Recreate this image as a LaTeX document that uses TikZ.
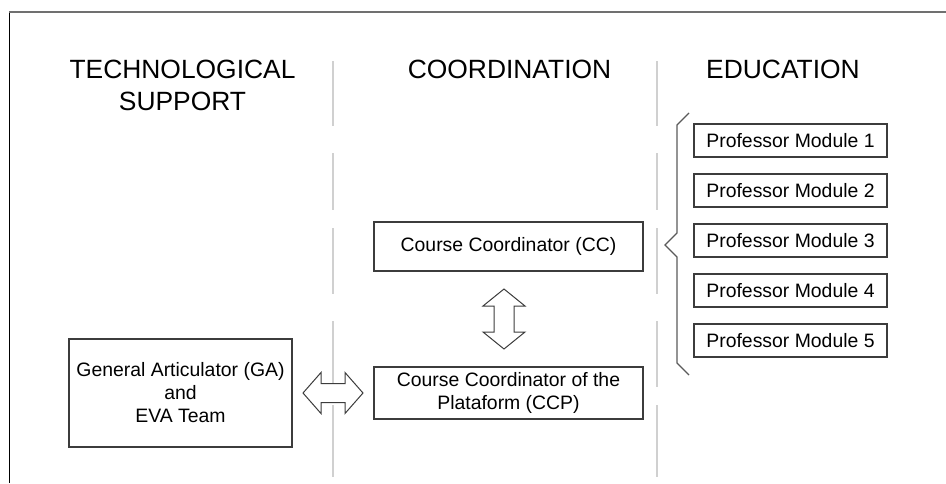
\documentclass[tikz,border=0pt]{standalone}
\usepackage{fontspec}
\setmainfont{Liberation Sans}
\usepackage{xcolor}
\usepackage{tikz}
\usetikzlibrary{calc, positioning}
\pgfdeclarelayer{background}
\pgfsetlayers{background,main}
\definecolor{boxgray}{HTML}{3C3C3C}
\definecolor{sepgray}{HTML}{D0D0D0}
\definecolor{bracegray}{HTML}{5A5A5A}
\definecolor{framegray}{HTML}{707070}
\tikzstyle{heading} = [font=\fontsize{26.4}{32}\selectfont, align=center, inner sep=0pt, anchor=north]
\tikzstyle{role}    = [rectangle, draw=boxgray, line width=1.3pt, align=center, inner sep=0pt, font=\fontsize{19.4}{23}\selectfont]
\tikzstyle{module}  = [role, minimum width=193pt, minimum height=33pt]
\tikzstyle{swap}    = [draw=boxgray, fill=white, line width=1pt, line join=miter]
\tikzstyle{divider} = [sepgray, line width=1.6pt]

\begin{document}
\begin{tikzpicture}[x=1pt, y=-1pt]
    \useasboundingbox (0,0) rectangle (946,483);
    \draw [black, line width=1pt] (9,12) -- (9,483);
    \draw [framegray, line width=1.8pt] (9,12) -- (946,12);

    \node (tech)  [heading] at (182.5,60) {TECHNOLOGICAL\\SUPPORT};
    \node (coord) [heading] at (509.5,60) {COORDINATION};
    \node (educ)  [heading] at (783,60)   {EDUCATION};

    \node (ga)  [role, minimum width=223pt, minimum height=108pt] at (180.5,393) {General Articulator (GA)\\and\\EVA Team};
    \node (cc)  [role, minimum width=269pt, minimum height=49pt] at (508.5,246.5) {Course Coordinator (CC)};
    \node (ccp) [role, minimum width=269pt, minimum height=52pt] at (508.5,393) {Course Coordinator of the\\Plataform (CCP)};

    \node (m1) [module] at (790.5,140.5) {Professor Module 1};
    \node (m2) [module, below=15.7pt of m1] {Professor Module 2};
    \node (m3) [module, below=15.7pt of m2] {Professor Module 3};
    \node (m4) [module, below=15.7pt of m3] {Professor Module 4};
    \node (m5) [module, below=15.7pt of m4] {Professor Module 5};

    \draw [bracegray, line width=1.2pt] (689,113) -- (677,125) -- (677,233) -- (665,245)
        -- (677,257) -- (677,363) -- (689,375);

    % hollow double arrows between the boxes
    \coordinate (vmid) at ($(cc.south)!0.5!(ccp.north) + (-4.5,0)$);
    \coordinate (hmid) at ($(ga.east)!0.5!(ccp.west)$);
    \draw [swap, shift={(vmid)}] (0,-30) -- (21,-13) -- (10,-13) -- (10,13) -- (21,13) -- (0,30)
        -- (-21,13) -- (-10,13) -- (-10,-13) -- (-21,-13) -- cycle;
    \draw [swap, shift={(hmid)}] (-30,0) -- (-12,-20.5) -- (-12,-9.5) -- (12,-9.5) -- (12,-20.5) -- (30,0)
        -- (12,20.5) -- (12,9.5) -- (-12,9.5) -- (-12,20.5) -- cycle;

    \begin{pgfonlayer}{background}
      \foreach \x in {333,657}
        \foreach \ya/\yb in {61/126, 153/210, 228/294, 321/387, 405/477}
          \draw [divider] (\x,\ya) -- (\x,\yb);
    \end{pgfonlayer}

  \end{tikzpicture}
\end{document}
